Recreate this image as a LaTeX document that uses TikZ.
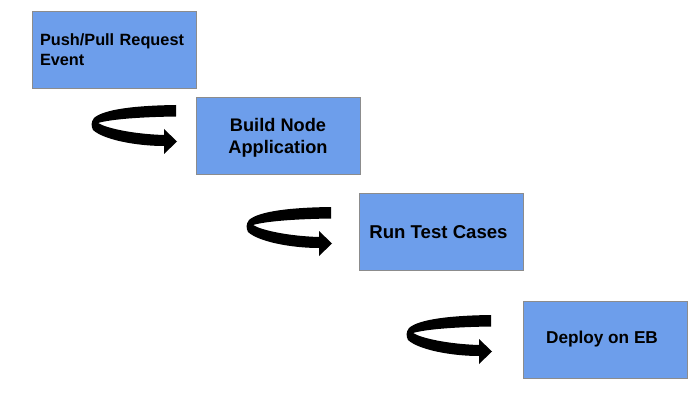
\documentclass[tikz,border=0pt]{standalone}
\usepackage{fontspec}
\setmainfont{Liberation Sans}
\definecolor{boxblue}{HTML}{6D9EEB}
\definecolor{boxedge}{HTML}{8C8C8C}
\tikzset{
  stagebox/.style={draw=boxedge, line width=0.8pt, fill=boxblue, minimum width=164pt, minimum height=77pt, inner sep=0pt, font=\bfseries},
  uturn/.pic={
    \fill[black] (84,0) -- (84,11.5) .. controls (50,12) and (20,14) .. (6,18)
      .. controls (14,23) and (40,29) .. (72,30) -- (72,24) -- (85,36.5) -- (72,49) -- (72,41)
      .. controls (45,41) and (12,35) .. (1,25)
      .. controls (-1,21) and (-1,17) .. (2,13)
      .. controls (12,4) and (45,0.5) .. (84,0) -- cycle;
  }
}
\begin{document}
\begin{tikzpicture}[x=1pt,y=-1pt]
\useasboundingbox[fill=white] (0,0) rectangle (700,403);
\node[stagebox, text width=148pt, align=left, font=\bfseries\fontsize{16.3}{20}\selectfont] (push) at (114,49.5) {Push/Pull Request\\Event};
\node[stagebox] (build) at (278,136) {};
\node[font=\bfseries\fontsize{18.2}{22}\selectfont, align=center, inner sep=0pt] (buildtext) at ([yshift=-2pt]build.center) {Build Node\\Application};
\node[stagebox, font=\bfseries\fontsize{18.6}{22}\selectfont] (test) at (441.5,232) {\hspace*{-6pt}Run Test Cases};
\node[stagebox, font=\bfseries\fontsize{17.2}{21}\selectfont] (deploy) at (605,339.5) {\hspace*{-6pt}Deploy on EB};
\pic at (92,105) {uturn};
\pic at (247,207) {uturn};
\pic at (407,315) {uturn};
\end{tikzpicture}
\end{document}
